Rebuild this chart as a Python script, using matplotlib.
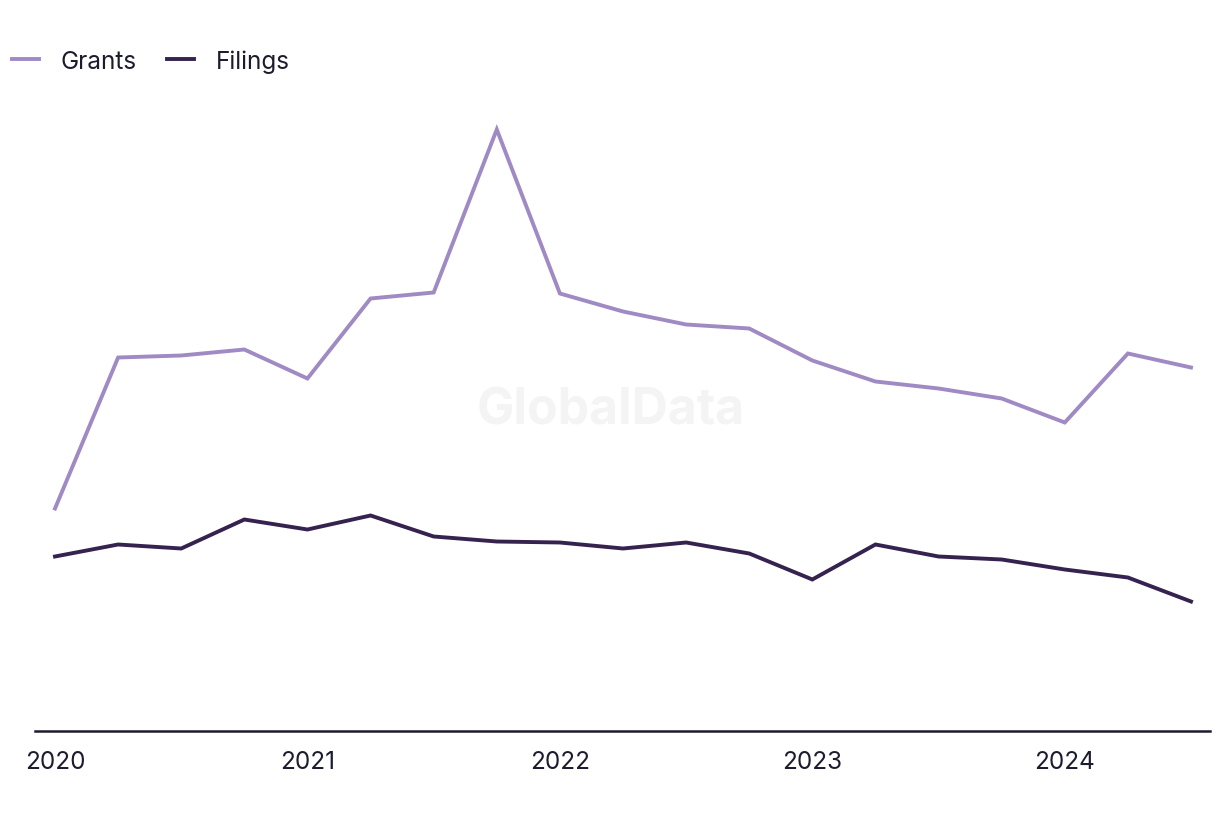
import numpy as np
import matplotlib.pyplot as plt

# quarterly values, 2020 Q1 .. 2024 Q3 (arbitrary units)
quarters = ['2020 Q1', '2020 Q2', '2020 Q3', '2020 Q4',
            '2021 Q1', '2021 Q2', '2021 Q3', '2021 Q4',
            '2022 Q1', '2022 Q2', '2022 Q3', '2022 Q4',
            '2023 Q1', '2023 Q2', '2023 Q3', '2023 Q4',
            '2024 Q1', '2024 Q2', '2024 Q3']
grants = [222, 373, 375, 381, 352, 432, 438, 601, 437, 419,
          406, 402, 370, 349, 342, 332, 308, 377, 363]
filings = [174, 186, 182, 211, 201, 215, 194, 189, 188, 182,
           188, 177, 151, 186, 174, 171, 161, 153, 129]
year_ticks = [0, 4, 8, 12, 16]
year_labels = ['2020', '2021', '2022', '2023', '2024']

plt.rcParams['font.family'] = ['Inter', 'DejaVu Sans']
text_col = '#1c1c2e'

fig = plt.figure(figsize=(12.2, 8.2), dpi=100)
ax = fig.add_axes([35 / 1220, 88.5 / 820, 1175 / 1220, 630 / 820])

x = np.arange(len(quarters))
ax.plot(x, grants, color='#a08ac4', lw=2.8, label='Grants', solid_joinstyle='miter')
ax.plot(x, filings, color='#35224f', lw=2.8, label='Filings', solid_joinstyle='miter')

ax.set_xlim(-20 / 63.1, 18 + 19 / 63.1)
ax.set_ylim(0, 630)

for s in ['top', 'right', 'left']:
    ax.spines[s].set_visible(False)
ax.spines['bottom'].set_color(text_col)
ax.spines['bottom'].set_linewidth(1.8)
ax.set_yticks([])
ax.set_xticks(year_ticks)
ax.set_xticklabels(year_labels, fontsize=17.5, color=text_col)
ax.tick_params(axis='x', length=0, pad=14)

ax.text(0.49, 0.508, 'GlobalData', transform=ax.transAxes, fontsize=36,
        fontweight='bold', color='#f4f4f4', ha='center', va='center', zorder=0)

fig.legend(loc='center left', bbox_to_anchor=(12 / 1220, 1 - 62 / 820), ncol=2,
           frameon=False, fontsize=17.5, handlelength=1.1, handletextpad=0.9,
           columnspacing=1.25, labelcolor=text_col, borderaxespad=0, borderpad=0)

fig.savefig('out.png', dpi=100)
